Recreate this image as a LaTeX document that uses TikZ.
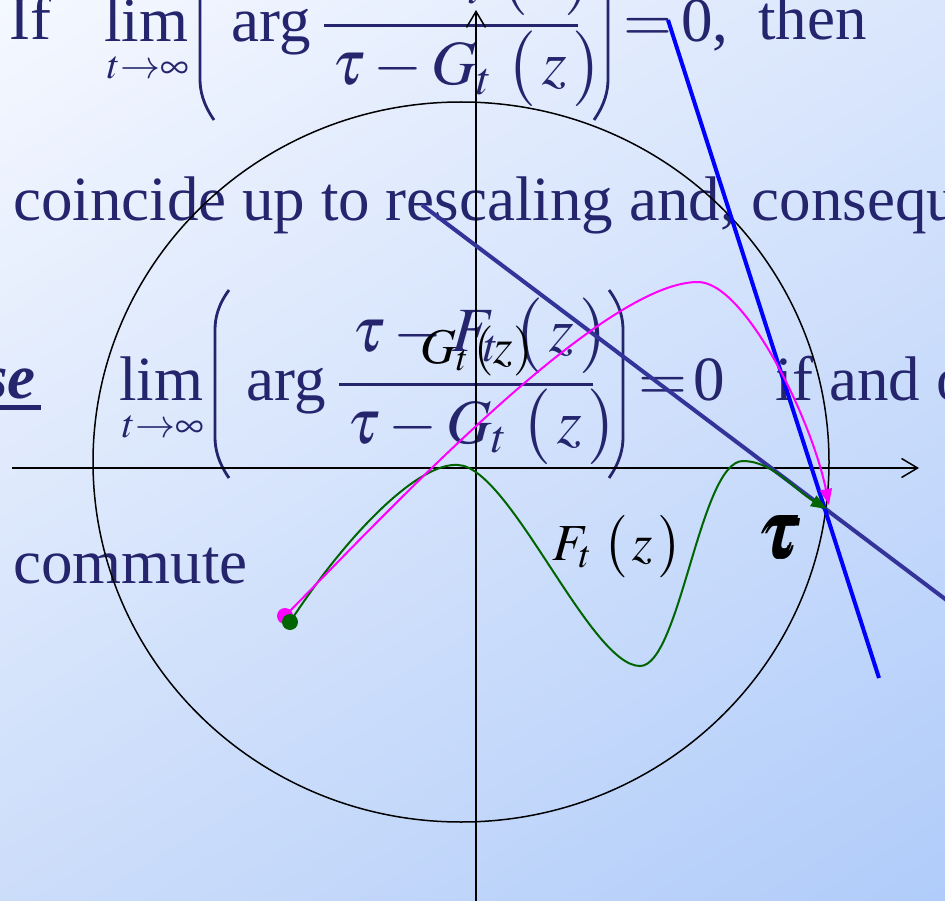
\documentclass[tikz,border=0pt]{standalone}
\usepackage{amsmath}
\usepackage{mathptmx}
\usepackage[no-math]{fontspec}
\setmainfont{Liberation Serif}
\usetikzlibrary{arrows.meta,shadings}

\definecolor{navy}{RGB}{37,37,110}
\definecolor{slate}{RGB}{51,51,153}
\definecolor{dkgreen}{RGB}{0,100,0}
\definecolor{mag}{RGB}{255,0,255}
\definecolor{pureblue}{RGB}{0,0,255}
\definecolor{bgtl}{RGB}{245,248,255}
\definecolor{bgtr}{RGB}{218,230,252}
\definecolor{bgbl}{RGB}{204,221,250}
\definecolor{bgbr}{RGB}{176,204,250}

\newcommand{\slidefont}{\fontsize{63}{75}\selectfont}
\newcommand{\limsubfont}{\fontsize{40}{48}\selectfont}
\newcommand{\tpar}[2]{\left(\vcenter{\hbox{\rule{0pt}{#1}}}#2\right)}
\newcommand{\thickuline}[1]{\setbox0\hbox{#1}\rlap{\rule[-11.5pt]{\wd0}{5pt}}\box0}

% lim arg (tau - F)/(tau - G) = , origin at the base of "lim"
\newcommand{\limformula}[1]{%
  \node[txt] (#1lim) at (0,0) {lim};
  \node[txt, font=\limsubfont] (#1sub) at (3,37) {$t{\to}\infty$};
  \draw[navy, line width=2.8pt] (110,-110) .. controls (99,-95) and (96,-82) .. (96,-70)
    -- (96,37) .. controls (96,49) and (99,62) .. (110,78);
  \node[txt] (#1arg) at (127,0) {arg};
  \coordinate (#1barl) at (220,-16);
  \coordinate (#1barr) at (474,-16);
  \draw[navy, line width=3pt] (#1barl) -- (#1barr);
  \node[txt] (#1num) at (233,-48) {$\tau - F_t\,\tpar{78pt}{\,z\,}$};
  \node[txt] (#1den) at (228,43) {$\tau - G_t\,\tpar{80pt}{\,z\,}$};
  \draw[navy, line width=2.8pt] (490,-110) .. controls (501,-95) and (504,-82) .. (504,-70)
    -- (504,37) .. controls (504,49) and (501,62) .. (490,78);
  \node[txt] (#1eq) at (519,0) {$=$};
}

\begin{document}
\begin{tikzpicture}[x=1pt, y=-1pt,
    txt/.style={text=navy, font=\slidefont, inner sep=0pt, anchor=base west},
    lbl/.style={text=black, inner sep=0pt, anchor=base west},
    axisline/.style={line width=1.5pt, -{Straight Barb[length=16pt,width=19pt]}},
    dot/.style={circle, inner sep=0pt, minimum size=16pt},
    curve/.style={line width=2pt, -{Triangle[length=16pt,width=12pt]}}
]
\useasboundingbox (0,0) rectangle (945,901);
\clip (0,0) rectangle (945,901);
\shade[upper left=bgtl, upper right=bgtr, lower left=bgbl, lower right=bgbr] (0,0) rectangle (945,901);

% slide text
\node[txt] (if) at (9,40) {If};
\begin{scope}[shift={(104,42)}]
  \limformula{a}
\end{scope}
\node[txt] (zeroa) at (681,42) {0,};
\node[txt] (then) at (758,40) {then};
\node[txt] (coincide) at (13,221) {coincide up to rescaling and, consequ};
\node[txt, anchor=base east] (conv) at (41,398) {\bfseries\itshape\thickuline{se\kern5pt}};
\begin{scope}[shift={(119,400)}]
  \limformula{b}
\end{scope}
\node[txt] (zerob) at (693,400) {0};
\node[txt] (iff) at (775,400) {if and o};
\node[txt] (commute) at (13,583) {commute};

% disc and axes
\draw[line width=1.5pt] (461,462) ellipse [x radius=368pt, y radius=360pt];
\coordinate (xl) at (12,468);
\coordinate (xr) at (919,468);
\coordinate (yb) at (476,905);
\coordinate (yt) at (476,10);
\draw[axisline] (xl) -- (xr);
\draw[axisline] (yb) -- (yt);

% lines through tau
\coordinate (tau) at (825,508);
\coordinate (slt) at (422,205);
\coordinate (slb) at (965,614);
\coordinate (blt) at (668,20);
\coordinate (blb) at (879,678);
\draw[slate, line width=4pt] (slt) -- (slb);
\draw[pureblue, line width=4pt] (blt) -- (blb);

% trajectories
\node[dot, fill=mag] (mstart) at (285,616) {};
\coordinate (gpeak) at (458,465);
\coordinate (gmin) at (640,666);
\coordinate (gpeak2) at (743,461);
\coordinate (mpeak) at (698,282);
\draw[dkgreen, curve] (290,622) .. controls (350,530) and (420,462) .. (gpeak)
  .. controls (510,467) and (590,666) .. (gmin)
  .. controls (680,666) and (700,461) .. (gpeak2)
  .. controls (772,461) and (795,490) .. (827,509);
\draw[mag, curve] (mstart.center) .. controls (380,520) and (600,282) .. (mpeak)
  .. controls (745,282) and (812,420) .. (829,505);
\node[dot, fill=dkgreen] (gstart) at (290,622) {};

% labels
\node[lbl, font=\fontsize{50}{60}\selectfont] (glbl) at (420,363) {$G_t\tpar{46pt}{z}$};
\node[lbl, font=\fontsize{52}{62}\selectfont] (flbl) at (552,560) {$F_t\,\tpar{60pt}{\,z\,}$};
\node[lbl, font=\fontsize{80}{90}\selectfont] (taulbl) at (760,558) {$\pmb{\tau}$};
\end{tikzpicture}
\end{document}
